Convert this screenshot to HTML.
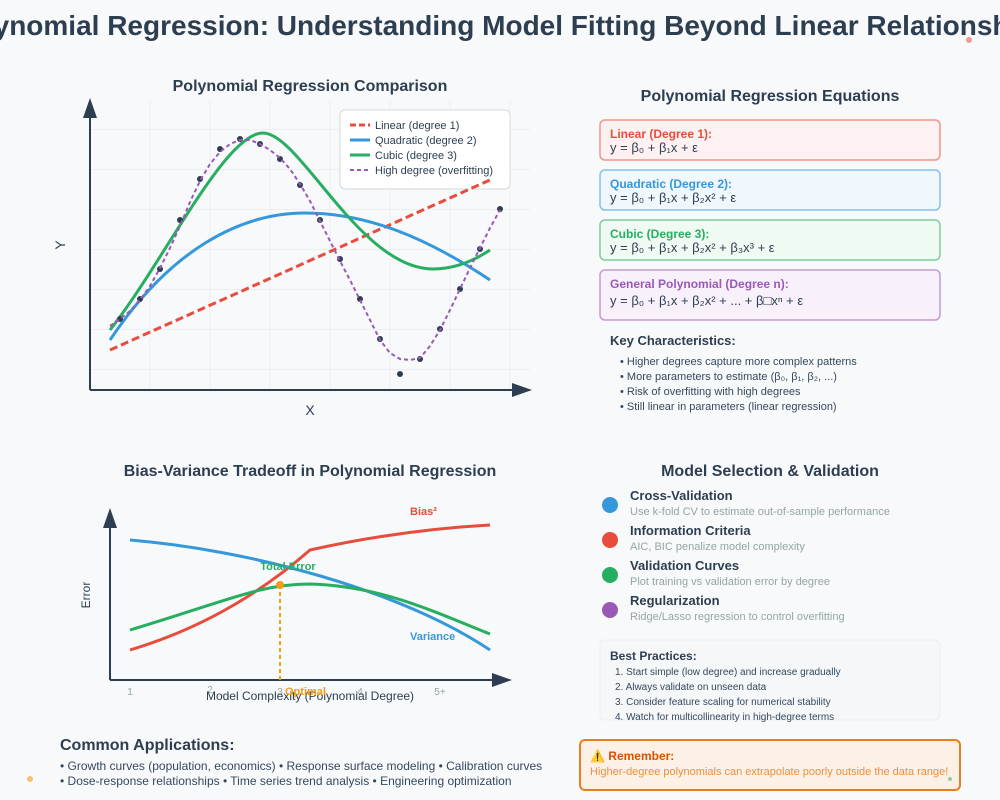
<!DOCTYPE html>
<html><head><meta charset="utf-8"><style>
html,body{margin:0;padding:0;background:#f8f9fb;}
svg{display:block;font-family:"Liberation Sans","DejaVu Sans",sans-serif;}
</style></head><body>
<svg width="1000" height="800" viewBox="0 0 1000 800" xmlns="http://www.w3.org/2000/svg">
<rect width="1000" height="800" fill="#f8f9fb"/>
<circle cx="30" cy="29" r="2" fill="#3498db" opacity="0.7"/>
<circle cx="969" cy="40" r="3" fill="#e74c3c" opacity="0.55"/>
<circle cx="30" cy="779" r="3" fill="#f39c12" opacity="0.6"/>
<circle cx="950" cy="779" r="2" fill="#27ae60" opacity="0.5"/>
<text x="500" y="35" text-anchor="middle" font-size="28" font-weight="bold" fill="#2c3e50">Polynomial Regression: Understanding Model Fitting Beyond Linear Relationships</text>

<!-- Chart 1 -->
<text x="310" y="91" text-anchor="middle" font-size="16" font-weight="bold" fill="#2c3e50">Polynomial Regression Comparison</text>
<g stroke="#eceff2" stroke-width="1">
<line x1="150" y1="100" x2="150" y2="390"/><line x1="210" y1="100" x2="210" y2="390"/><line x1="270" y1="100" x2="270" y2="390"/><line x1="330" y1="100" x2="330" y2="390"/><line x1="390" y1="100" x2="390" y2="390"/><line x1="450" y1="100" x2="450" y2="390"/><line x1="510" y1="100" x2="510" y2="390"/>
<line x1="90" y1="129.5" x2="530" y2="129.5"/><line x1="90" y1="169.5" x2="530" y2="169.5"/><line x1="90" y1="209.5" x2="530" y2="209.5"/><line x1="90" y1="249.5" x2="530" y2="249.5"/><line x1="90" y1="289.5" x2="530" y2="289.5"/><line x1="90" y1="329.5" x2="530" y2="329.5"/><line x1="90" y1="369.5" x2="530" y2="369.5"/>
</g>
<line x1="90" y1="390" x2="90" y2="116" stroke="#2c3e50" stroke-width="2"/>
<polygon points="83,118 97,118 90,98" fill="#2c3e50"/>
<line x1="90" y1="390" x2="514" y2="390" stroke="#2c3e50" stroke-width="2"/>
<polygon points="512,383 512,397 532,390" fill="#2c3e50"/>
<text x="310" y="415" text-anchor="middle" font-size="14" fill="#2c3e50">X</text>
<text x="60" y="250" text-anchor="middle" font-size="14" fill="#2c3e50" transform="rotate(-90 60 245)">Y</text>

<!-- legend -->
<rect x="340" y="110" width="170" height="79" rx="5" fill="#ffffff" stroke="#d5d8dc" stroke-width="1"/>
<line x1="350" y1="125" x2="370" y2="125" stroke="#e74c3c" stroke-width="3" stroke-dasharray="6,3"/>
<line x1="350" y1="140" x2="370" y2="140" stroke="#3498db" stroke-width="3"/>
<line x1="350" y1="155" x2="370" y2="155" stroke="#27ae60" stroke-width="3"/>
<line x1="350" y1="170" x2="370" y2="170" stroke="#9b59b6" stroke-width="2" stroke-dasharray="4,3"/>
<g font-size="11" fill="#2c3e50">
<text x="375" y="129">Linear (degree 1)</text>
<text x="375" y="144">Quadratic (degree 2)</text>
<text x="375" y="159">Cubic (degree 3)</text>
<text x="375" y="174">High degree (overfitting)</text>
</g>

<!-- curves -->
<line x1="110" y1="350" x2="490" y2="180" stroke="#e74c3c" stroke-width="3" stroke-dasharray="8,4"/>
<path d="M110,340 C170,250 240,213 305,213 C370,213 430,240 490,280" fill="none" stroke="#3498db" stroke-width="3"/>
<path d="M110,330 C165,260 225,133 263,133 C300,133 360,269 433,269 C455,269 475,260 490,250" fill="none" stroke="#27ae60" stroke-width="3"/>
<g fill="#2c3e50">
<circle cx="120" cy="319" r="3"/><circle cx="140" cy="299" r="3"/><circle cx="160" cy="269" r="3"/><circle cx="180" cy="220" r="3"/><circle cx="200" cy="179" r="3"/><circle cx="220" cy="149" r="3"/><circle cx="240" cy="139" r="3"/><circle cx="260" cy="144" r="3"/><circle cx="280" cy="159" r="3"/><circle cx="300" cy="185" r="3"/><circle cx="320" cy="220" r="3"/><circle cx="340" cy="259" r="3"/><circle cx="360" cy="299" r="3"/><circle cx="380" cy="339" r="3"/><circle cx="400" cy="374" r="3"/><circle cx="420" cy="359" r="3"/><circle cx="440" cy="329" r="3"/><circle cx="460" cy="289" r="3"/><circle cx="480" cy="249" r="3"/><circle cx="500" cy="209" r="3"/>
</g>
<polyline fill="none" stroke="#9b59b6" stroke-width="2" stroke-dasharray="4,3" stroke-linejoin="round" points="110,326 120,319 130,311 140,300 150,286 160,268 170,248 180,226 190,202 200,181 210,164 220,152 230,144 240,140 250,140 260,144 270,150 280,158 290,169 300,184 310,201 320,221 330,241 340,261 350,280 360,300 370,320 380,340 390,353 400,359 410,360 420,358 430,346 440,330 450,310 460,289 470,268 480,248 490,228 500,210"/>

<!-- Equations panel -->
<text x="770" y="101" text-anchor="middle" font-size="16" font-weight="bold" fill="#2c3e50">Polynomial Regression Equations</text>
<rect x="600" y="120" width="340" height="40" rx="5" fill="#fdf2f1" stroke="#f1948a" stroke-width="1.5"/>
<text x="610" y="138" font-size="12" font-weight="bold" fill="#e74c3c">Linear (Degree 1):</text>
<text x="610" y="152" font-size="13" fill="#2c3e50">y = β₀ + β₁x + ε</text>
<rect x="600" y="170" width="340" height="40" rx="5" fill="#f0f7fd" stroke="#85c1e9" stroke-width="1.5"/>
<text x="610" y="188" font-size="12" font-weight="bold" fill="#3498db">Quadratic (Degree 2):</text>
<text x="610" y="202" font-size="13" fill="#2c3e50">y = β₀ + β₁x + β₂x² + ε</text>
<rect x="600" y="220" width="340" height="40" rx="5" fill="#effaf3" stroke="#7dcea0" stroke-width="1.5"/>
<text x="610" y="238" font-size="12" font-weight="bold" fill="#27ae60">Cubic (Degree 3):</text>
<text x="610" y="252" font-size="13" fill="#2c3e50">y = β₀ + β₁x + β₂x² + β₃x³ + ε</text>
<rect x="600" y="270" width="340" height="50" rx="5" fill="#f8f1fb" stroke="#c39bd3" stroke-width="1.5"/>
<text x="610" y="288" font-size="12" font-weight="bold" fill="#9b59b6">General Polynomial (Degree n):</text>
<text x="610" y="305" font-size="13" fill="#2c3e50">y = β₀ + β₁x + β₂x² + ... + β□xⁿ + ε</text>
<text x="610" y="345" font-size="13" font-weight="bold" fill="#2c3e50">Key Characteristics:</text>
<g font-size="11" fill="#34495e">
<text x="620" y="365">• Higher degrees capture more complex patterns</text>
<text x="620" y="380">• More parameters to estimate (β₀, β₁, β₂, ...)</text>
<text x="620" y="395">• Risk of overfitting with high degrees</text>
<text x="620" y="410">• Still linear in parameters (linear regression)</text>
</g>

<!-- Bias variance -->
<text x="310" y="476" text-anchor="middle" font-size="16" font-weight="bold" fill="#2c3e50">Bias-Variance Tradeoff in Polynomial Regression</text>
<line x1="110" y1="680" x2="110" y2="525" stroke="#2c3e50" stroke-width="2"/>
<polygon points="103,528 117,528 110,508" fill="#2c3e50"/>
<line x1="110" y1="680" x2="494" y2="680" stroke="#2c3e50" stroke-width="2"/>
<polygon points="492,673 492,687 512,680" fill="#2c3e50"/>
<path d="M130,650 Q230,620 310,550 Q400,530 490,525" fill="none" stroke="#e74c3c" stroke-width="3"/>
<path d="M130,540 C250,550 400,590 490,650" fill="none" stroke="#3498db" stroke-width="3"/>
<path d="M130,630 C230,600 260,584 310,584 C380,586 430,610 490,634" fill="none" stroke="#27ae60" stroke-width="3"/>
<line x1="280" y1="585" x2="280" y2="680" stroke="#f39c12" stroke-width="2" stroke-dasharray="4,3"/>
<circle cx="280" cy="585" r="4" fill="#f39c12"/>
<g font-size="11" font-weight="bold">
<text x="410" y="515" fill="#e74c3c">Bias²</text>
<text x="288" y="570" text-anchor="middle" fill="#27ae60">Total Error</text>
<text x="410" y="640" fill="#3498db">Variance</text>
</g>
<g font-size="10" fill="#95a5a6" text-anchor="middle">
<text x="130" y="695">1</text><text x="210" y="693">2</text><text x="280" y="695">3</text><text x="360" y="695">4</text><text x="440" y="695">5+</text>
</g>
<text x="310" y="700" text-anchor="middle" font-size="12" fill="#2c3e50">Model Complexity (Polynomial Degree)</text>
<text x="285" y="695" font-size="11" font-weight="bold" fill="#f39c12">Optimal</text>
<text x="90" y="595" text-anchor="middle" font-size="12" fill="#2c3e50" transform="rotate(-90 90 595)">Error</text>

<!-- Model selection -->
<text x="770" y="476" text-anchor="middle" font-size="16" font-weight="bold" fill="#2c3e50">Model Selection &amp; Validation</text>
<circle cx="610" cy="505" r="8" fill="#3498db"/>
<circle cx="610" cy="540" r="8" fill="#e74c3c"/>
<circle cx="610" cy="575" r="8" fill="#27ae60"/>
<circle cx="610" cy="610" r="8" fill="#9b59b6"/>
<g font-size="13" font-weight="bold" fill="#2c3e50">
<text x="630" y="500">Cross-Validation</text>
<text x="630" y="535">Information Criteria</text>
<text x="630" y="570">Validation Curves</text>
<text x="630" y="605">Regularization</text>
</g>
<g font-size="11" fill="#95a5a6">
<text x="630" y="515">Use k-fold CV to estimate out-of-sample performance</text>
<text x="630" y="550">AIC, BIC penalize model complexity</text>
<text x="630" y="585">Plot training vs validation error by degree</text>
<text x="630" y="620">Ridge/Lasso regression to control overfitting</text>
</g>
<rect x="600" y="640" width="340" height="80" rx="5" fill="#f5f7f9" stroke="#eceff1" stroke-width="1"/>
<text x="610" y="660" font-size="12" font-weight="bold" fill="#2c3e50">Best Practices:</text>
<g font-size="10" fill="#34495e">
<text x="615" y="675">1. Start simple (low degree) and increase gradually</text>
<text x="615" y="690">2. Always validate on unseen data</text>
<text x="615" y="705">3. Consider feature scaling for numerical stability</text>
<text x="615" y="720">4. Watch for multicollinearity in high-degree terms</text>
</g>

<!-- Bottom -->
<text x="60" y="750" font-size="16" font-weight="bold" fill="#2c3e50">Common Applications:</text>
<g font-size="12" fill="#34495e">
<text x="60" y="770">• Growth curves (population, economics) • Response surface modeling • Calibration curves</text>
<text x="60" y="785">• Dose-response relationships • Time series trend analysis • Engineering optimization</text>
</g>
<rect x="580" y="740" width="380" height="50" rx="5" fill="#fdf0e6" stroke="#e67e22" stroke-width="2"/>
<text x="590" y="760" font-size="12" font-weight="bold" fill="#d35400">⚠️ Remember:</text>
<text x="590" y="775" font-size="11" fill="#e8913f">Higher-degree polynomials can extrapolate poorly outside the data range!</text>
<circle cx="950" cy="779" r="2" fill="#27ae60" opacity="0.5"/>
</svg>
</body></html>
